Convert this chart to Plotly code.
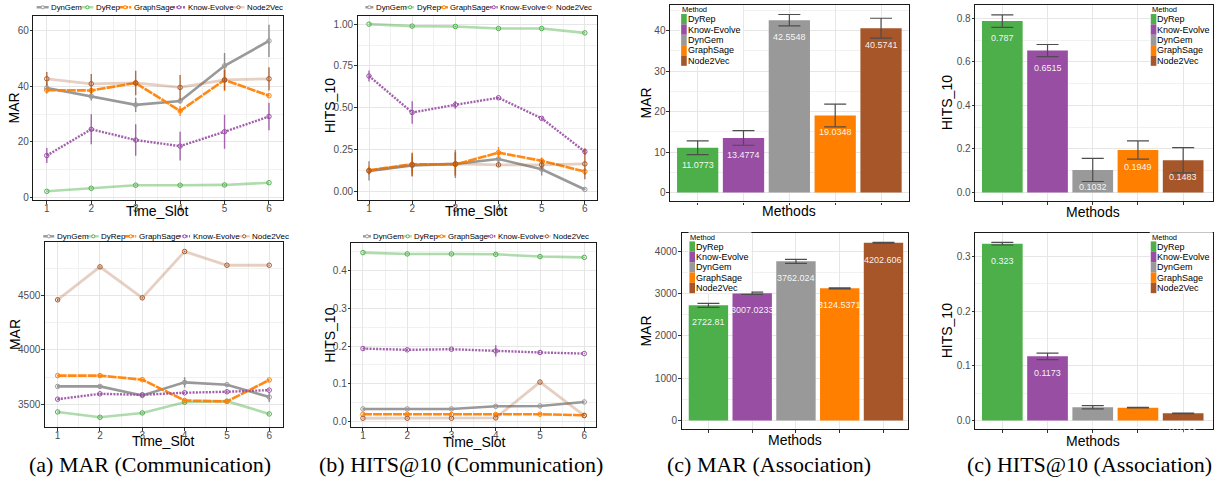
import plotly.graph_objects as go

W, H = 1214, 481

# ---------------- data ----------------
TIME_SLOTS = [1, 2, 3, 4, 5, 6]
LINE_METHODS = ["DynGem", "DyRep", "GraphSage", "Know-Evolve", "Node2Vec"]
BAR_METHODS = ["DyRep", "Know-Evolve", "DynGem", "GraphSage", "Node2Vec"]

# (a) MAR (Communication) - top row
A1_DYNGEM = [39.4, 36.4, 33.3, 34.7, 47.4, 56.4]
A1_DYNGEM_ERR = [2.0, 1.5, 2.6, 0.8, 4.6, 5.8]
A1_DYREP = [2.1, 3.2, 4.3, 4.3, 4.4, 5.2]
A1_DYREP_ERR = [0.2, 0.2, 0.2, 0.2, 0.2, 0.2]
A1_GRAPHSAGE = [38.6, 38.5, 41.2, 31.1, 42.3, 36.6]
A1_GRAPHSAGE_ERR = [0.5, 0.5, 1.0, 1.8, 4.0, 0.3]
A1_KNOWEVOLVE = [15.0, 24.5, 20.6, 18.4, 23.6, 29.1]
A1_KNOWEVOLVE_ERR = [2.7, 5.4, 5.7, 5.2, 6.1, 5.0]
A1_NODE2VEC = [42.7, 40.9, 41.2, 39.6, 42.3, 42.7]
A1_NODE2VEC_ERR = [2.5, 3.5, 4.4, 4.5, 3.6, 4.2]

# (b) HITS@10 (Communication) - top row
B1_DYNGEM = [0.123, 0.155, 0.165, 0.194, 0.133, 0.012]
B1_DYNGEM_ERR = [0.057, 0.05, 0.085, 0.025, 0.038, 0.003]
B1_DYREP = [1.0, 0.988, 0.986, 0.974, 0.974, 0.948]
B1_DYREP_ERR = [0.003, 0.003, 0.003, 0.003, 0.003, 0.003]
B1_GRAPHSAGE = [0.127, 0.163, 0.161, 0.232, 0.183, 0.119]
B1_GRAPHSAGE_ERR = [0.025, 0.07, 0.07, 0.033, 0.02, 0.02]
B1_KNOWEVOLVE = [0.69, 0.472, 0.518, 0.56, 0.437, 0.238]
B1_KNOWEVOLVE_ERR = [0.033, 0.067, 0.023, 0.005, 0.005, 0.018]
B1_NODE2VEC = [0.123, 0.159, 0.165, 0.159, 0.159, 0.165]
B1_NODE2VEC_ERR = [0.02, 0.07, 0.07, 0.01, 0.03, 0.092]

# (a) MAR (Communication) - bottom row
A2_DYNGEM = [3666, 3666, 3583, 3703, 3682, 3568]
A2_DYNGEM_ERR = [10, 10, 5, 48, 5, 45]
A2_DYREP = [3432, 3383, 3423, 3521, 3531, 3414]
A2_DYREP_ERR = [5, 5, 5, 5, 5, 5]
A2_GRAPHSAGE = [3765, 3765, 3728, 3537, 3528, 3725]
A2_GRAPHSAGE_ERR = [5, 5, 5, 5, 5, 5]
A2_KNOWEVOLVE = [3549, 3598, 3589, 3608, 3617, 3632]
A2_KNOWEVOLVE_ERR = [5, 5, 5, 5, 5, 5]
A2_NODE2VEC = [4460, 4762, 4478, 4903, 4777, 4777]
A2_NODE2VEC_ERR = [10, 5, 5, 5, 5, 5]

# (b) HITS@10 (Communication) - bottom row
B2_DYNGEM = [0.0334, 0.0334, 0.0334, 0.0404, 0.0413, 0.0519]
B2_DYNGEM_ERR = [0.001, 0.001, 0.001, 0.001, 0.001, 0.001]
B2_DYREP = [0.4475, 0.444, 0.444, 0.443, 0.437, 0.435]
B2_DYREP_ERR = [0.001, 0.001, 0.001, 0.002, 0.001, 0.001]
B2_GRAPHSAGE = [0.0193, 0.0193, 0.0185, 0.0185, 0.0193, 0.0167]
B2_GRAPHSAGE_ERR = [0.001, 0.001, 0.001, 0.001, 0.001, 0.001]
B2_KNOWEVOLVE = [0.1934, 0.19, 0.1916, 0.187, 0.183, 0.180]
B2_KNOWEVOLVE_ERR = [0.001, 0.001, 0.001, 0.015, 0.001, 0.001]
B2_NODE2VEC = [0.0088, 0.0088, 0.0088, 0.0097, 0.1046, 0.0158]
B2_NODE2VEC_ERR = [0.001, 0.001, 0.001, 0.001, 0.001, 0.001]

# (c) MAR (Association) and HITS@10 (Association)
C1_MAR = [11.0773, 13.4774, 42.5548, 19.0348, 40.5741]
C1_MAR_ERR = [1.7, 1.8, 1.4, 2.8, 2.45]
D1_HITS = [0.787, 0.6515, 0.1032, 0.1949, 0.1483]
D1_HITS_ERR = [0.029, 0.028, 0.053, 0.042, 0.058]
C2_MAR = [2722.81, 3007.0233, 3762.024, 3124.5371, 4202.606]
C2_MAR_ERR = [47, 28, 48, 12, 8]
D2_HITS = [0.323, 0.1173, 0.0242, 0.0236, 0.0133]
D2_HITS_ERR = [0.0025, 0.006, 0.003, 0.0005, 0.0005]

CAPTIONS = ["(a) MAR (Communication)", "(b) HITS@10 (Communication)",
            "(c) MAR (Association)", "(c) HITS@10 (Association)"]

# ---------------- styles ----------------
COLORS = {"DynGem": "#999999", "DyRep": "#4DAF4A", "GraphSage": "#FF7F00",
          "Know-Evolve": "#984EA3", "Node2Vec": "#A65628"}
LINE_STYLE = {
    "DynGem": dict(color="rgba(153,153,153,1)", width=2.6, dash="solid"),
    "DyRep": dict(color="rgba(77,175,74,0.45)", width=2.6, dash="solid"),
    "GraphSage": dict(color="rgba(255,127,0,0.92)", width=2.6, dash="9px,1px"),
    "Know-Evolve": dict(color="rgba(152,78,163,0.9)", width=2.4, dash="2px,1.3px"),
    "Node2Vec": dict(color="rgba(166,86,40,0.28)", width=2.8, dash="solid"),
}
ERR_COLOR = {"DynGem": "rgba(130,130,130,0.9)", "DyRep": "rgba(77,175,74,0.7)",
             "GraphSage": "rgba(255,127,0,0.85)", "Know-Evolve": "rgba(152,78,163,0.85)",
             "Node2Vec": "rgba(166,86,40,0.85)"}
EM = {"DynGem": 3.945, "DyRep": 3.056, "GraphSage": 5.114, "Know-Evolve": 5.835, "Node2Vec": 4.669}
FONT = "Liberation Sans, Arial, sans-serif"


def px(x):
    return x / W


def py(y):
    return 1 - y / H


def sfx(n):
    return "" if n == 1 else str(n)


fig = go.Figure()
shapes = []
annotations = []
layout_axes = {}


def minors(ticks, rng):
    step = ticks[1] - ticks[0]
    cand = [ticks[0] - step / 2] + [t + step / 2 for t in ticks]
    return [c for c in cand if rng[0] < c < rng[1]]


def axis_common():
    return dict(showline=True, linecolor="#1A1A1A", linewidth=1.3, mirror=True,
                ticks="outside", ticklen=2.5, tickwidth=1, tickcolor="#333333",
                tickfont=dict(size=10, color="#4D4D4D", family=FONT),
                showgrid=True, gridcolor="#E6E6E6", gridwidth=0.8, zeroline=False)


def set_axes(n, box, xrange, yrange, yticks, yfmt, categorical):
    l, r, t, b = box
    s = sfx(n)
    xa = axis_common()
    ya = axis_common()
    xa.update(domain=[px(l), min(1.0, px(r))], range=xrange, anchor="y" + s)
    if categorical:
        xa.update(type="category", showticklabels=False)
    else:
        xa.update(tickmode="array", tickvals=TIME_SLOTS, ticklabelstandoff=-4,
                  minor=dict(tickvals=[v + 0.5 for v in TIME_SLOTS[:-1]], showgrid=True,
                             gridcolor="#F1F1F1", gridwidth=0.6, ticks=""))
    ya.update(domain=[py(b), py(t)], range=yrange, anchor="x" + s,
              tickmode="array", tickvals=yticks, tickformat=yfmt, ticklabelstandoff=-1,
              minor=dict(tickvals=minors(yticks, yrange), showgrid=True,
                         gridcolor="#F1F1F1", gridwidth=0.6, ticks=""))
    layout_axes["xaxis" + s] = xa
    layout_axes["yaxis" + s] = ya


def text_ann(text, x, y, size, angle=0, anchor="center", color="#000000", family=FONT):
    annotations.append(dict(text=text, x=px(x), y=py(y), xref="paper", yref="paper",
                            xanchor=anchor, yanchor="middle", showarrow=False,
                            textangle=angle, font=dict(size=size, color=color, family=family)))


def line_legend(x_start, y_c, key_len, font_size):
    x = x_start
    for name in LINE_METHODS:
        st = LINE_STYLE[name]
        shapes.append(dict(type="line", xref="paper", yref="paper",
                           x0=px(x), x1=px(x + key_len), y0=py(y_c), y1=py(y_c),
                           line=dict(color=st["color"], width=2.4, dash=st["dash"])))
        cx = x + key_len / 2
        shapes.append(dict(type="circle", xref="paper", yref="paper",
                           x0=px(cx - 1.6), x1=px(cx + 1.6), y0=py(y_c + 1.6), y1=py(y_c - 1.6),
                           line=dict(color=COLORS[name], width=1), fillcolor="white"))
        text_ann(name, x + key_len + 0.5, y_c, font_size, anchor="left")
        x += key_len + 1 + EM[name] * font_size + 1


def bar_legend(x_left, y_title, row_h=10.4, key_w=5.6):
    shapes.append(dict(type="rect", xref="paper", yref="paper", layer="above",
                       x0=px(x_left - 1), x1=px(x_left + 62), y0=py(y_title - 5),
                       y1=py(y_title + 9.3 + 4.5 * row_h), fillcolor="white", line=dict(width=0)))
    text_ann("Method", x_left - 1, y_title, 7.5, anchor="left")
    for i, name in enumerate(BAR_METHODS):
        yc = y_title + 9.3 + i * row_h
        shapes.append(dict(type="rect", xref="paper", yref="paper", layer="above",
                           x0=px(x_left), x1=px(x_left + key_w), y0=py(yc + row_h / 2),
                           y1=py(yc - row_h / 2), fillcolor=COLORS[name], line=dict(width=0)))
        text_ann(name, x_left + key_w - 1, yc, 9, anchor="left")


def add_line_panel(n, series, errors):
    s = sfx(n)
    for name in LINE_METHODS:
        st = LINE_STYLE[name]
        fig.add_trace(go.Scatter(
            x=TIME_SLOTS, y=series[name], mode="lines+markers",
            line=dict(color=st["color"], width=st["width"], dash=st["dash"]),
            marker=dict(symbol="circle-open", size=4.5, color=COLORS[name],
                        line=dict(width=1.0, color=COLORS[name])),
            error_y=dict(type="data", array=errors[name], visible=True,
                         color=ERR_COLOR[name], thickness=1.4, width=0),
            xaxis="x" + s, yaxis="y" + s, showlegend=False, hoverinfo="skip"))


def add_bar_panel(n, values, errors):
    s = sfx(n)
    fig.add_trace(go.Bar(
        x=BAR_METHODS, y=values, width=0.9,
        marker=dict(color=[COLORS[m] for m in BAR_METHODS], line=dict(width=0)),
        error_y=dict(type="data", array=errors, visible=True, color="#4D4D4D",
                     thickness=1.2, width=11),
        xaxis="x" + s, yaxis="y" + s, showlegend=False, hoverinfo="skip"))
    for m, v in zip(BAR_METHODS, values):
        annotations.append(dict(text=str(v), x=m, y=v, xref="x" + s, yref="y" + s,
                                yshift=-17, showarrow=False, xanchor="center", yanchor="middle",
                                font=dict(size=9, color="rgba(255,255,255,0.93)", family=FONT)))


# ---------------- panels ----------------
# top row, (a)
add_line_panel(1,
               {"DynGem": A1_DYNGEM, "DyRep": A1_DYREP, "GraphSage": A1_GRAPHSAGE,
                "Know-Evolve": A1_KNOWEVOLVE, "Node2Vec": A1_NODE2VEC},
               {"DynGem": A1_DYNGEM_ERR, "DyRep": A1_DYREP_ERR, "GraphSage": A1_GRAPHSAGE_ERR,
                "Know-Evolve": A1_KNOWEVOLVE_ERR, "Node2Vec": A1_NODE2VEC_ERR})
set_axes(1, (33.5, 283, 16, 201), [0.70, 6.31], [-1.1, 65.4], [0, 20, 40, 60], "d", False)
line_legend(36.7, 7.3, 12, 7.8)
text_ann("MAR", 14.5, 108.5, 14, angle=-90)
text_ann("Time_Slot", 158, 212, 14)

# top row, (b)
add_line_panel(2,
               {"DynGem": B1_DYNGEM, "DyRep": B1_DYREP, "GraphSage": B1_GRAPHSAGE,
                "Know-Evolve": B1_KNOWEVOLVE, "Node2Vec": B1_NODE2VEC},
               {"DynGem": B1_DYNGEM_ERR, "DyRep": B1_DYREP_ERR, "GraphSage": B1_GRAPHSAGE_ERR,
                "Know-Evolve": B1_KNOWEVOLVE_ERR, "Node2Vec": B1_NODE2VEC_ERR})
set_axes(2, (358, 597, 16, 201), [0.738, 6.27], [-0.052, 1.049],
         [0, 0.25, 0.5, 0.75, 1.0], ".2f", False)
line_legend(365.7, 7.3, 8, 7.8)
text_ann("HITS_10", 330, 106, 14, angle=-90)
text_ann("Time_Slot", 477, 212, 14)

# top row, (c)
add_bar_panel(3, C1_MAR, C1_MAR_ERR)
set_axes(3, (670.7, 909.3, 5, 202.3), [-0.6, 4.6], [-2.2, 46.3], [0, 10, 20, 30, 40], "d", True)
bar_legend(681.7, 10)
text_ann("MAR", 647, 103.5, 14, angle=-90)
text_ann("Methods", 790, 212, 14)

# top row, (d)
add_bar_panel(4, D1_HITS, D1_HITS_ERR)
set_axes(4, (976, 1214, 5, 202), [-0.6, 4.66], [-0.040, 0.861], [0, 0.2, 0.4, 0.6, 0.8], ".1f", True)
bar_legend(1151.7, 10)
text_ann("HITS_10", 948, 103.5, 14, angle=-90)
text_ann("Methods", 1094, 213, 14)

# bottom row, (a)
add_line_panel(5,
               {"DynGem": A2_DYNGEM, "DyRep": A2_DYREP, "GraphSage": A2_GRAPHSAGE,
                "Know-Evolve": A2_KNOWEVOLVE, "Node2Vec": A2_NODE2VEC},
               {"DynGem": A2_DYNGEM_ERR, "DyRep": A2_DYREP_ERR, "GraphSage": A2_GRAPHSAGE_ERR,
                "Know-Evolve": A2_KNOWEVOLVE_ERR, "Node2Vec": A2_NODE2VEC_ERR})
set_axes(5, (45, 283, 243, 429), [0.70, 6.32], [3292, 4990], [3500, 4000, 4500], "d", False)
line_legend(43.3, 237.3, 11, 8)
text_ann("MAR", 14.5, 336, 14, angle=-90)
text_ann("Time_Slot", 164, 443, 14)

# bottom row, (b)
add_line_panel(6,
               {"DynGem": B2_DYNGEM, "DyRep": B2_DYREP, "GraphSage": B2_GRAPHSAGE,
                "Know-Evolve": B2_KNOWEVOLVE, "Node2Vec": B2_NODE2VEC},
               {"DynGem": B2_DYNGEM_ERR, "DyRep": B2_DYREP_ERR, "GraphSage": B2_GRAPHSAGE_ERR,
                "Know-Evolve": B2_KNOWEVOLVE_ERR, "Node2Vec": B2_NODE2VEC_ERR})
set_axes(6, (351.7, 596.7, 244, 429), [0.739, 6.27], [-0.015, 0.473],
         [0, 0.1, 0.2, 0.3, 0.4], ".1f", False)
line_legend(363.3, 237.3, 8, 7.8)
text_ann("HITS_10", 330, 336.5, 14, angle=-90)
text_ann("Time_Slot", 475, 444, 14)

# bottom row, (c)
add_bar_panel(7, C2_MAR, C2_MAR_ERR)
set_axes(7, (682.3, 908.3, 234, 431), [-0.61, 4.55], [-205, 4431], [0, 1000, 2000, 3000, 4000], "d", True)
bar_legend(690, 238.3)
text_ann("MAR", 647, 332.5, 14, angle=-90)
text_ann("Methods", 796, 442, 14)

# bottom row, (d)
add_bar_panel(8, D2_HITS, D2_HITS_ERR)
set_axes(8, (976, 1214, 234, 431), [-0.6, 4.66], [-0.0158, 0.3424], [0, 0.1, 0.2, 0.3], ".1f", True)
bar_legend(1151.7, 238.3)
text_ann("HITS_10", 948, 332.5, 14, angle=-90)
text_ann("Methods", 1094, 443, 14)

# captions
for cap, cx in zip(CAPTIONS, [150, 461, 770, 1090]):
    text_ann(cap, cx, 466, 22, family="Liberation Serif, Times New Roman, serif")

fig.update_layout(
    width=W, height=H, margin=dict(l=0, r=0, t=0, b=0),
    paper_bgcolor="white", plot_bgcolor="white",
    font=dict(family=FONT), bargap=0.1,
    shapes=shapes, annotations=annotations, showlegend=False,
    **layout_axes)

fig.write_html("out.html", config={"displayModeBar": False},
               post_script="document.body.style.margin='0';")
